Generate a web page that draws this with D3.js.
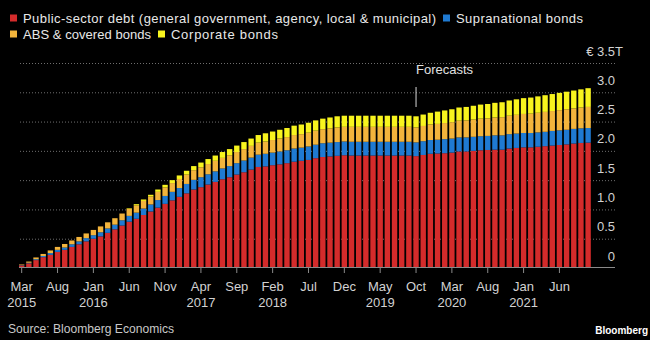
<!DOCTYPE html>
<html>
<head>
<meta charset="utf-8">
<script src="https://cdn.jsdelivr.net/npm/d3@7"></script>
<style>
  html, body { margin: 0; background: #000; }
  svg { display: block; font-family: "Liberation Sans", Arial, sans-serif; }
</style>
</head>
<body>
<svg id="chart" width="650" height="340"></svg>
<script>
// Monthly holdings, € trillion, Mar 2015 – Oct 2021 (from Oct 2019 on: forecasts)
const months = d3.utcMonth.range(new Date(Date.UTC(2015, 2, 1)), new Date(Date.UTC(2021, 10, 1)));

const publicSector = [
  0.045, 0.08, 0.135, 0.185, 0.225, 0.275, 0.31, 0.36, 0.405, 0.455,
  0.50, 0.54, 0.60, 0.66, 0.725, 0.79, 0.84, 0.905, 0.965, 1.03,
  1.095, 1.155, 1.215, 1.275, 1.34, 1.38, 1.425, 1.47, 1.515, 1.55,
  1.595, 1.635, 1.68, 1.725, 1.735, 1.755, 1.77, 1.79, 1.815, 1.83,
  1.845, 1.875, 1.895, 1.905, 1.915, 1.925, 1.92, 1.92, 1.92, 1.92,
  1.92, 1.92, 1.92, 1.92, 1.92, 1.91, 1.93, 1.95, 1.955, 1.96,
  1.97, 1.99, 1.99, 2.00, 2.01, 2.015, 2.02, 2.02, 2.04, 2.05,
  2.06, 2.06, 2.07, 2.08, 2.09, 2.10, 2.11, 2.125, 2.135, 2.14
];
const supranational = [
  0.005, 0.01, 0.015, 0.02, 0.03, 0.035, 0.04, 0.045, 0.05, 0.055,
  0.06, 0.07, 0.075, 0.08, 0.09, 0.10, 0.105, 0.11, 0.12, 0.13,
  0.135, 0.145, 0.15, 0.16, 0.165, 0.17, 0.175, 0.18, 0.185, 0.19,
  0.195, 0.20, 0.205, 0.21, 0.215, 0.215, 0.22, 0.22, 0.225, 0.225,
  0.23, 0.23, 0.235, 0.235, 0.235, 0.235, 0.235, 0.235, 0.235, 0.235,
  0.235, 0.235, 0.235, 0.235, 0.235, 0.235, 0.235, 0.235, 0.235, 0.24,
  0.24, 0.24, 0.24, 0.24, 0.24, 0.24, 0.245, 0.245, 0.245, 0.245,
  0.245, 0.245, 0.245, 0.245, 0.25, 0.25, 0.25, 0.25, 0.25, 0.25
];
const absCovered = [
  0.01, 0.02, 0.03, 0.035, 0.045, 0.05, 0.06, 0.065, 0.075, 0.08,
  0.09, 0.10, 0.105, 0.11, 0.115, 0.12, 0.125, 0.13, 0.135, 0.14,
  0.145, 0.15, 0.155, 0.16, 0.165, 0.17, 0.175, 0.18, 0.18, 0.185,
  0.19, 0.195, 0.20, 0.205, 0.21, 0.215, 0.22, 0.225, 0.23, 0.23,
  0.235, 0.24, 0.24, 0.245, 0.25, 0.25, 0.255, 0.255, 0.255, 0.255,
  0.255, 0.255, 0.255, 0.255, 0.255, 0.255, 0.26, 0.265, 0.27, 0.275,
  0.28, 0.285, 0.29, 0.295, 0.30, 0.30, 0.305, 0.31, 0.315, 0.32,
  0.325, 0.33, 0.335, 0.34, 0.34, 0.345, 0.35, 0.35, 0.355, 0.36
];
const corporate = [
  0, 0, 0, 0, 0, 0, 0, 0, 0, 0,
  0, 0, 0, 0, 0, 0.01, 0.02, 0.025, 0.03, 0.04,
  0.045, 0.05, 0.06, 0.065, 0.07, 0.08, 0.085, 0.09, 0.10, 0.105,
  0.11, 0.12, 0.125, 0.13, 0.14, 0.145, 0.15, 0.155, 0.16, 0.165,
  0.17, 0.175, 0.18, 0.185, 0.19, 0.19, 0.19, 0.19, 0.19, 0.19,
  0.19, 0.19, 0.19, 0.19, 0.19, 0.19, 0.195, 0.20, 0.21, 0.215,
  0.22, 0.225, 0.23, 0.235, 0.24, 0.245, 0.25, 0.255, 0.26, 0.265,
  0.27, 0.275, 0.28, 0.285, 0.29, 0.295, 0.30, 0.305, 0.31, 0.32
];

const seriesKeys = ["publicSector", "supranational", "absCovered", "corporate"];
const seriesNames = [
  "Public-sector debt (general government, agency, local & municipal)",
  "Supranational bonds",
  "ABS & covered bonds",
  "Corporate bonds"
];
const seriesColors = ["#d42b2b", "#1f7ad2", "#f3b43c", "#f8f41e"];

// Tick labels every five months
const xTickMonths = ["Mar", "Aug", "Jan", "Jun", "Nov", "Apr", "Sep", "Feb", "Jul", "Dec", "May", "Oct", "Mar", "Aug", "Jan", "Jun"];
const xTickYears  = ["2015", "", "2016", "", "", "2017", "", "2018", "", "", "2019", "", "2020", "", "2021", ""];
const yTickValues = [0, 0.5, 1, 1.5, 2, 2.5, 3, 3.5];
const yTickLabels = ["0", "0.5", "1.0", "1.5", "2.0", "2.5", "3.0", "€ 3.5"];
const forecastStart = 55; // Oct 2019

const rows = months.map((m, i) => ({
  month: m,
  publicSector: publicSector[i],
  supranational: supranational[i],
  absCovered: absCovered[i],
  corporate: corporate[i]
}));

const svg = d3.select("#chart");
const plotLeft = 19, plotRight = 615;

const x = d3.scaleBand()
  .domain(months)
  .range([18.1, 591.7])
  .paddingInner(0.25)
  .paddingOuter(0.125);

const y = d3.scaleLinear().domain([0, 3.5]).range([268, 63]);

// Dotted gridlines with labels sitting above each line
const grid = svg.append("g")
  .attr("transform", `translate(${plotRight},0)`)
  .call(d3.axisLeft(y)
    .tickValues(yTickValues)
    .tickSize(plotRight - plotLeft)
    .tickFormat((d, i) => yTickLabels[i]));
grid.select(".domain").remove();
grid.selectAll(".tick line")
  .attr("stroke", "#6e6e6e")
  .attr("stroke-dasharray", "1,2")
  .filter(d => d === 0).remove();
grid.selectAll(".tick text")
  .attr("x", 0)
  .attr("dy", null)
  .attr("y", -8)
  .attr("fill", "#d2d2d2")
  .attr("font-size", 13)
  .attr("text-anchor", "end");
grid.selectAll(".tick text").filter(d => d === 3.5)
  .attr("x", 8)
  .append("tspan").text("T");

// Stacked bars
const stacked = d3.stack().keys(seriesKeys)(rows);
svg.append("g").selectAll("g")
  .data(stacked)
  .join("g")
  .attr("fill", (d, i) => seriesColors[i])
  .selectAll("rect")
  .data(d => d)
  .join("rect")
  .attr("x", d => x(d.data.month))
  .attr("width", x.bandwidth())
  .attr("y", d => y(d[1]))
  .attr("height", d => Math.max(0, y(d[0]) - y(d[1])));

// Baseline
svg.append("line")
  .attr("x1", plotLeft).attr("x2", plotRight)
  .attr("y1", y(0) - 0.5).attr("y2", y(0) - 0.5)
  .attr("stroke", "#8a8a8a").attr("stroke-width", 1);

// Month axis
const tickDates = months.filter((m, i) => i % 5 === 0);
const xAxis = svg.append("g")
  .attr("transform", `translate(0,${y(0)})`)
  .call(d3.axisBottom(x).tickValues(tickDates).tickSize(5).tickFormat(() => ""));
xAxis.select(".domain").remove();
xAxis.selectAll(".tick line").attr("stroke", "#8a8a8a");
xAxis.selectAll(".tick text").remove();
xAxis.selectAll(".tick").each(function (d, i) {
  const t = d3.select(this).append("text")
    .attr("fill", "#d2d2d2")
    .attr("font-size", 13)
    .attr("text-anchor", "middle");
  t.append("tspan").attr("x", 0).attr("y", 22.5).text(xTickMonths[i]);
  if (xTickYears[i]) t.append("tspan").attr("x", 0).attr("y", 38.5).text(xTickYears[i]);
});

// Forecast marker
const fx = x(months[forecastStart]) + x.bandwidth() / 2;
svg.append("line")
  .attr("x1", fx).attr("x2", fx)
  .attr("y1", 87).attr("y2", 107)
  .attr("stroke", "#d8d8d8").attr("stroke-width", 1);
svg.append("text")
  .attr("x", fx).attr("y", 73.5)
  .attr("fill", "#e0e0e0")
  .attr("font-size", 13)
  .text("Forecasts");

// Legend, two rows; entry text is set to the house font's run lengths
const legendRows = [[0, 1], [2, 3]];
const legendTextWidths = [413, 127, 128, 107];
legendRows.forEach((items, r) => {
  let cx = 10;
  const baseY = 22.5 + r * 16;
  items.forEach(k => {
    svg.append("rect")
      .attr("x", cx).attr("y", baseY - 8)
      .attr("width", 7).attr("height", 7)
      .attr("fill", seriesColors[k]);
    svg.append("text")
      .attr("x", cx + 13).attr("y", baseY)
      .attr("fill", "#e8e8e8")
      .attr("font-size", 13)
      .attr("textLength", legendTextWidths[k])
      .attr("lengthAdjust", "spacing")
      .text(seriesNames[k]);
    cx = cx + 13 + legendTextWidths[k] + 7;
  });
});

// Footer
svg.append("text")
  .attr("x", 8).attr("y", 333)
  .attr("fill", "#c8c8c8")
  .attr("font-size", 13)
  .attr("textLength", 166)
  .attr("lengthAdjust", "spacingAndGlyphs")
  .text("Source: Bloomberg Economics");
svg.append("text")
  .attr("x", 648).attr("y", 334)
  .attr("text-anchor", "end")
  .attr("fill", "#ffffff")
  .attr("font-size", 10)
  .attr("font-weight", "bold")
  .text("Bloomberg");
</script>
</body>
</html>
